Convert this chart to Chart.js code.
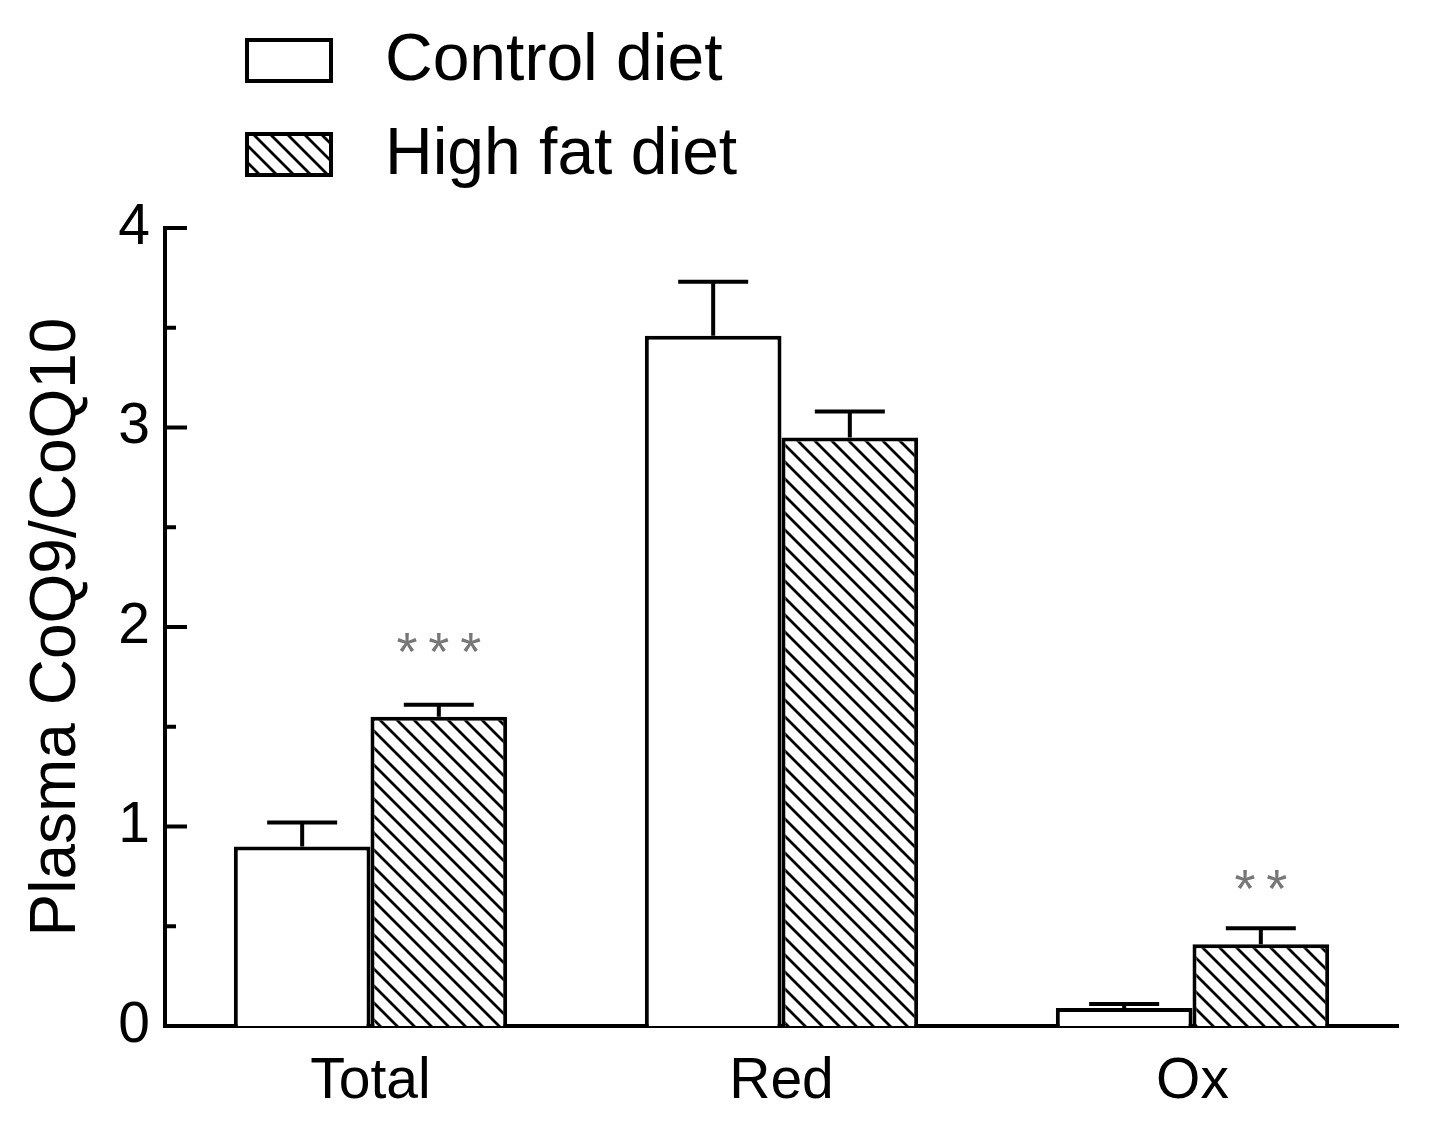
<!DOCTYPE html>
<html>
<head>
<meta charset="utf-8">
<script src="https://cdn.jsdelivr.net/npm/chart.js@4.4.1/dist/chart.umd.min.js"></script>
<style>
  html, body { margin: 0; padding: 0; background: #fff; }
  canvas { display: block; }
</style>
</head>
<body>
<canvas id="chart" width="1430" height="1134"></canvas>
<script>
const categories = ["Total", "Red", "Ox"];
const seriesNames = ["Control diet", "High fat diet"];
const controlValues = [0.9, 3.46, 0.09];
const controlErrors = [1.02, 3.73, 0.11];
const highFatValues = [1.55, 2.95, 0.41];
const highFatErrors = [1.61, 3.08, 0.49];
// significance marks: [category index, label, y value where drawn]
const marks = [[0, "***", 1.92], [2, "**", 0.73]];

const FONT = "'Liberation Sans', Arial, sans-serif";

function makeHatch() {
  const c = document.createElement("canvas");
  c.width = 17;
  c.height = 17;
  const g = c.getContext("2d");
  g.fillStyle = "#fff";
  g.fillRect(0, 0, 17, 17);
  g.strokeStyle = "#000";
  g.lineWidth = 2.8;
  g.beginPath();
  for (let o = -17; o <= 17; o += 17) {
    g.moveTo(o - 2, -2);
    g.lineTo(o + 19, 19);
  }
  g.stroke();
  return g.createPattern(c, "repeat");
}
const hatch = makeHatch();

const errorBars = {
  id: "errorBars",
  afterDatasetsDraw(chart) {
    const ctx = chart.ctx;
    const y = chart.scales.y;
    const errs = [controlErrors, highFatErrors];
    ctx.save();
    ctx.strokeStyle = "#000";
    ctx.lineWidth = 4;
    chart.data.datasets.forEach((ds, i) => {
      chart.getDatasetMeta(i).data.forEach((bar, j) => {
        const top = y.getPixelForValue(errs[i][j]);
        ctx.beginPath();
        ctx.moveTo(bar.x, bar.y);
        ctx.lineTo(bar.x, top);
        ctx.moveTo(bar.x - 35, top);
        ctx.lineTo(bar.x + 35, top);
        ctx.stroke();
      });
    });
    // significance stars over high fat bars
    ctx.fillStyle = "#777";
    ctx.font = "54px " + FONT;
    ctx.textAlign = "center";
    ctx.textBaseline = "middle";
    const meta = chart.getDatasetMeta(1);
    marks.forEach(([j, txt, v]) => {
      const s = txt.split("").join("\u2009");
      ctx.fillText(s, meta.data[j].x, y.getPixelForValue(v) + 12);
    });
    ctx.restore();
  }
};

const yTicks = {
  id: "yTicks",
  afterDraw(chart) {
    const ctx = chart.ctx;
    const y = chart.scales.y;
    const x0 = chart.chartArea.left;
    ctx.save();
    ctx.strokeStyle = "#000";
    ctx.lineWidth = 4;
    for (let v = 0.5; v <= 4; v += 0.5) {
      const py = y.getPixelForValue(v);
      const len = Number.isInteger(v) ? 22 : 11;
      ctx.beginPath();
      ctx.moveTo(x0, py);
      ctx.lineTo(x0 + len, py);
      ctx.stroke();
    }
    ctx.restore();
  }
};

const legendBoxes = {
  id: "legendBoxes",
  afterDraw(chart) {
    const ctx = chart.ctx;
    ctx.save();
    ctx.font = "66px " + FONT;
    ctx.textAlign = "left";
    ctx.textBaseline = "alphabetic";
    chart.data.datasets.forEach((ds, i) => {
      const top = 38 + i * 94;
      ctx.fillStyle = ds.backgroundColor;
      ctx.fillRect(245, top, 88, 45);
      ctx.strokeStyle = "#000";
      ctx.lineWidth = 4;
      ctx.strokeRect(247, top + 2, 84, 41);
      ctx.fillStyle = "#000";
      ctx.fillText(ds.label, 385, top + 42);
    });
    ctx.restore();
  }
};

new Chart(document.getElementById("chart"), {
  type: "bar",
  data: {
    labels: categories,
    datasets: [
      {
        label: seriesNames[0],
        data: controlValues,
        backgroundColor: "#fff",
        borderColor: "#000",
        borderWidth: 4
      },
      {
        label: seriesNames[1],
        data: highFatValues,
        backgroundColor: hatch,
        borderColor: "#000",
        borderWidth: 4
      }
    ]
  },
  options: {
    responsive: false,
    animation: false,
    devicePixelRatio: 1,
    layout: { padding: { left: 0, right: 32, top: 228, bottom: 0 } },
    datasets: { bar: { categoryPercentage: 0.665, barPercentage: 1.0 } },
    plugins: {
      legend: { display: false },
      tooltip: { enabled: false }
    },
    scales: {
      x: {
        grid: { display: false, drawTicks: false },
        border: { display: true, color: "#000", width: 4 },
        ticks: { color: "#000", font: { family: FONT, size: 57 }, padding: 22 },
        afterFit(scale) { scale.height = 108; }
      },
      y: {
        min: 0,
        max: 4,
        grid: { display: false, drawTicks: false },
        border: { display: true, color: "#000", width: 4 },
        ticks: { stepSize: 1, color: "#000", font: { family: FONT, size: 57 }, padding: 15 },
        title: {
          display: true,
          text: "Plasma CoQ9/CoQ10",
          color: "#000",
          font: { family: FONT, size: 64, lineHeight: 1 },
          padding: { top: 25, bottom: 0 }
        },
        afterFit(scale) { scale.width = 165; }
      }
    }
  },
  plugins: [errorBars, yTicks, legendBoxes]
});
</script>
</body>
</html>
